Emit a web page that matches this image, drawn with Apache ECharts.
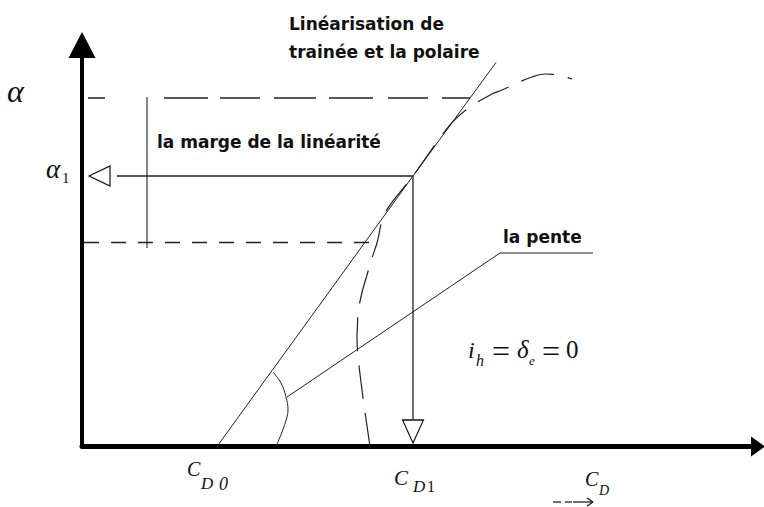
<!DOCTYPE html>
<html>
<head>
<meta charset="utf-8">
<script src="https://cdn.jsdelivr.net/npm/echarts@6/dist/echarts.min.js"></script>
<style>
  html, body { margin: 0; padding: 0; background: #fff; }
  #chart { width: 764px; height: 507px; }
</style>
</head>
<body>
<div id="chart"></div>
<script>
// Drag polar sketch: drag coefficient C_D on x, angle of attack alpha on y (schematic units)
const cdMarks = [135, 331];                 // C_D0, C_D1
const alphaMarks = [204, 270.5, 348.5];     // lower edge of linear range, alpha_1, upper edge

// linearised polar (tangent through C_D0 and the operating point)
const tangentCD = [135, 331, 414];
const tangentAlpha = [0, 270.5, 384];

// real polar curve
const polarCD = [288, 282, 279, 276, 275, 275.5, 276, 280, 285, 290, 295, 303, 331, 368, 388, 410, 420, 435, 450, 463, 476, 490];
const polarAlpha = [0, 41.5, 64.5, 90, 109.5, 122, 133.5, 154, 171.5, 188.5, 203.5, 233.5, 270.5, 321.5, 339.5, 352.5, 356.5, 363.5, 369.5, 372.5, 371.5, 367.5];

// angle arc at C_D0 and the leader to the "la pente" label
const arcCD = [191, 199, 204, 206, 205, 200, 194];
const arcAlpha = [74.5, 63.5, 49.5, 36.5, 29.5, 14.5, 0];
const leaderCD = [205, 418, 511];
const leaderAlpha = [49.5, 193.5, 193.5];

// horizontal guides and the linear-range bracket
const upperGuideCD = [6, 388];
const lowerGuideCD = [2, 296];
const alpha1GuideCD = [35, 331];
const cd1GuideAlpha = [270.5, 26.5];
const bracketCD = 65;
const bracketAlpha = [349.5, 198.5];

// text
const titleLines = ['Linéarisation de', 'trainée et la polaire'];
const marginLabel = 'la marge de la linéarité';
const slopeLabel = 'la pente';

const zip = (xs, ys) => xs.map((x, i) => [x, ys[i]]);

const chart = echarts.init(document.getElementById('chart'), null, { renderer: 'svg' });

const thin = (color, width, type) => ({ color, width, type: type || 'solid' });
const lineSeries = (data, lineStyle, smooth) => ({
  type: 'line', data, showSymbol: false, symbol: 'none', smooth: smooth || false,
  lineStyle, silent: true, animation: false, z: 3
});

chart.setOption({
  animation: false,
  backgroundColor: '#fff',
  grid: { left: 82, right: 6, top: 45, bottom: 60.5 },
  xAxis: {
    type: 'value', min: 0, max: 676,
    axisLine: { show: true, onZero: false, symbol: ['none', 'triangle'], symbolSize: [20, 14],
      lineStyle: { color: '#000', width: 5 } },
    axisTick: { show: false }, axisLabel: { show: false }, splitLine: { show: false }
  },
  yAxis: {
    type: 'value', min: 0, max: 401.5,
    axisLine: { show: true, onZero: false, symbol: ['none', 'triangle'], symbolSize: [27, 26],
      lineStyle: { color: '#000', width: 4 } },
    axisTick: { show: false }, axisLabel: { show: false }, splitLine: { show: false }
  },
  series: [
    lineSeries(zip(tangentCD, tangentAlpha), thin('#222', 1)),
    lineSeries(zip(polarCD, polarAlpha), thin('#222', 1.2, [34, 14]), 0.35),
    lineSeries([[upperGuideCD[0], alphaMarks[2]], [upperGuideCD[1], alphaMarks[2]]],
      { color: '#222', width: 1.3, type: [17, 59, 44, 12, 40, 14, 42, 13, 44, 15, 40, 14, 40, 14, 40, 14] }),
    lineSeries([[lowerGuideCD[0], alphaMarks[0]], [lowerGuideCD[1], alphaMarks[0]]], thin('#222', 1.3, [15, 12])),
    lineSeries([[alpha1GuideCD[0], alphaMarks[1]], [alpha1GuideCD[1], alphaMarks[1]]], thin('#222', 1.3)),
    lineSeries([[cdMarks[1], cd1GuideAlpha[0]], [cdMarks[1], cd1GuideAlpha[1]]], thin('#222', 1.3)),
    lineSeries([[bracketCD, bracketAlpha[0]], [bracketCD, bracketAlpha[1]]], thin('#222', 1.1)),
    lineSeries(zip(arcCD, arcAlpha), thin('#222', 1), 0.4),
    lineSeries(zip(leaderCD, leaderAlpha), thin('#222', 1)),
    {
      type: 'scatter', silent: true, animation: false, z: 5,
      data: [
        { value: [0, alphaMarks[1]], symbol: 'triangle', symbolSize: [20, 21], symbolRotate: 90, symbolOffset: [17.5, 0] },
        { value: [cdMarks[1], 0], symbol: 'triangle', symbolSize: [21, 23], symbolRotate: 180, symbolOffset: [0, -15] }
      ],
      itemStyle: { color: '#fff', borderColor: '#111', borderWidth: 1.2, opacity: 1 }
    }
  ]
});

const px = (x, y) => chart.convertToPixel({ gridIndex: 0 }, [x, y]);
const ink = '#111';
const boldText = (text, x, y) => ({
  type: 'text', x, y, z: 10,
  style: { text, fill: ink, fontFamily: 'DejaVu Sans', fontWeight: 'bold', fontSize: 17,
    align: 'left', verticalAlign: 'middle' }
});
const mathText = (text, x, y, size, italic, align) => ({
  type: 'text', x, y, z: 10,
  style: { text, fill: ink, fontFamily: 'Liberation Serif', fontStyle: italic === false ? 'normal' : 'italic',
    fontSize: size, align: align || 'left', verticalAlign: 'middle' }
});
const stroke = { stroke: ink, lineWidth: 1.2 };
const seg = (x1, y1, x2, y2) => ({ type: 'line', z: 10, shape: { x1, y1, x2, y2 }, style: stroke });

const pA = px(0, alphaMarks[2]);
const pA1 = px(0, alphaMarks[1]);
const pCD0 = px(cdMarks[0], 0);
const pCD1 = px(cdMarks[1], 0);
const pEnd = px(503, 0);

chart.setOption({
  graphic: [
    boldText(titleLines[0], 289, 24),
    boldText(titleLines[1], 289, 52),
    boldText(marginLabel, 157, 142),
    boldText(slopeLabel, 503, 237),
    // axis quantities
    mathText('α', pA[0] - 75, pA[1] - 7, 32),
    mathText('α', pA1[0] - 36, pA1[1] - 7.5, 27),
    mathText('1', pA1[0] - 20, pA1[1] + 2, 15, false),
    mathText('C', pCD0[0] - 30, pCD0[1] + 22.5, 20),
    mathText('D', pCD0[0] - 16, pCD0[1] + 37, 17),
    mathText('0', pCD0[0] + 2, pCD0[1] + 37, 18),
    mathText('C', pCD1[0] - 19, pCD1[1] + 31, 21),
    mathText('D', pCD1[0] + 0, pCD1[1] + 40, 17),
    mathText('1', pCD1[0] + 14, pCD1[1] + 40, 16, false),
    mathText('C', pEnd[0], pEnd[1] + 32, 20),
    mathText('D', pEnd[0] + 14, pEnd[1] + 44, 14),
    // arrow under C_D
    seg(pEnd[0] - 32, 502, pEnd[0] - 24, 502),
    seg(pEnd[0] - 20, 502, pEnd[0] - 13, 502),
    seg(pEnd[0] - 12, 502, pEnd[0] + 8, 502),
    seg(pEnd[0] + 8, 502, pEnd[0] + 2, 498),
    seg(pEnd[0] + 8, 502, pEnd[0] + 2, 506),
    // trim condition
    mathText('i', 468, 349.5, 24),
    mathText('h', 476, 360, 16),
    mathText('=', 501, 351, 32, false, 'center'),
    mathText('δ', 517, 349.5, 25),
    mathText('e', 529, 360, 13),
    mathText('=', 551, 351, 32, false, 'center'),
    mathText('0', 566, 349.5, 25, false)
  ]
});
</script>
</body>
</html>
